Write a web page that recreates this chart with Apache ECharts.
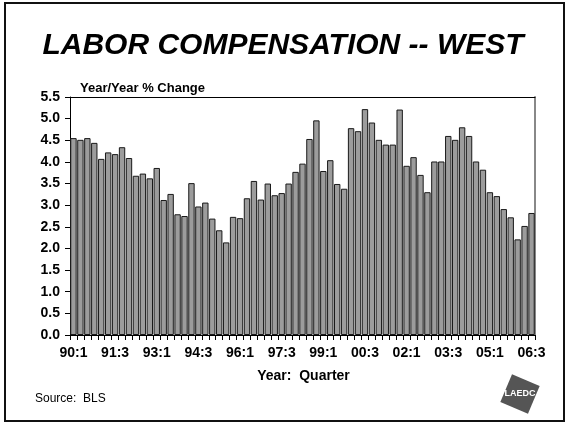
<!DOCTYPE html>
<html>
<head>
<meta charset="utf-8">
<script src="https://cdn.jsdelivr.net/npm/echarts@6/dist/echarts.min.js"></script>
<style>
  html, body { margin: 0; padding: 0; background: #fff; }
  #chart { width: 566px; height: 424px; }
</style>
</head>
<body>
<div id="chart"></div>
<script>
  // quarters 90:1 .. 06:3
  var years = ['90','91','92','93','94','95','96','97','98','99','00','01','02','03','04','05','06'];
  var quarters = [];
  years.forEach(function (y) {
    for (var q = 1; q <= 4; q++) {
      if (y === '06' && q > 3) break;
      quarters.push(y + ':' + q);
    }
  });

  // year/year % change
  var pctChange = [
    4.55, 4.51, 4.55, 4.44, 4.07, 4.22, 4.18, 4.34, 4.09, 3.68,
    3.73, 3.62, 3.86, 3.12, 3.26, 2.79, 2.75, 3.51, 2.97, 3.06,
    2.69, 2.42, 2.14, 2.73, 2.70, 3.16, 3.56, 3.13, 3.50, 3.23,
    3.28, 3.50, 3.77, 3.96, 4.53, 4.96, 3.79, 4.04, 3.49, 3.38,
    4.78, 4.71, 5.22, 4.91, 4.51, 4.40, 4.40, 5.21, 3.91, 4.11,
    3.70, 3.30, 4.01, 4.01, 4.60, 4.51, 4.80, 4.60, 4.01, 3.82,
    3.30, 3.21, 2.91, 2.72, 2.21, 2.52, 2.82
  ];

  var myChart = echarts.init(document.getElementById('chart'));
  var font = 'Liberation Sans, Arial, sans-serif';

  var option = {
    animation: false,
    textStyle: { fontFamily: font },
    grid: { left: 70, right: 31, top: 97, bottom: 89 },   // plot box
    xAxis: [{
      type: 'category',
      data: quarters,
      axisLine: { lineStyle: { color: '#000', width: 1 } },
      axisTick: { show: true, interval: 0, length: 5, lineStyle: { color: '#000' } },
      axisLabel: {
        interval: 5, color: '#000', fontWeight: 'bold', fontSize: 14,
        fontFamily: font, margin: 11
      },
      name: 'Year:  Quarter',
      nameLocation: 'middle',
      nameGap: 34,
      nameTextStyle: { color: '#000', fontWeight: 'bold', fontSize: 14, fontFamily: font, padding: [0, 0, 0, 2] }
    }, {
      type: 'category',
      position: 'top',
      data: quarters,
      axisLine: { show: true, onZero: false, lineStyle: { color: '#000', width: 1 } },
      axisTick: { show: false },
      axisLabel: { show: false }
    }],
    yAxis: [{
      type: 'value',
      min: 0,
      max: 5.5,
      interval: 0.5,
      splitLine: { show: false },
      axisLine: { show: true, lineStyle: { color: '#000' } },
      axisTick: { show: true, length: 5, lineStyle: { color: '#000' } },
      axisLabel: {
        color: '#000', fontWeight: 'bold', fontSize: 14, fontFamily: font, margin: 10,
        formatter: function (v) { return v.toFixed(1); }
      }
    }, {
      type: 'value',
      position: 'right',
      min: 0,
      max: 5.5,
      interval: 0.5,
      splitLine: { show: false },
      axisLine: { show: true, onZero: false, lineStyle: { color: '#888', width: 2 } },
      axisTick: { show: false },
      axisLabel: { show: false }
    }],
    series: [{
      type: 'bar',
      data: pctChange,
      barCategoryGap: '8%',
      itemStyle: { color: '#9c9c9c', borderColor: '#1a1a1a', borderWidth: 1 }
    }],
    graphic: [
      { // outer frame
        type: 'rect', shape: { x: 5, y: 3, width: 559, height: 418 },
        style: { fill: 'none', stroke: '#111', lineWidth: 2 }, silent: true
      },
      {
        type: 'text', left: 'center', top: 31,
        style: { text: 'LABOR COMPENSATION -- WEST', font: 'italic bold 30px ' + font, fill: '#000' }
      },
      {
        type: 'text', left: 80, top: 82,
        style: { text: 'Year/Year % Change', font: 'bold 13px ' + font, fill: '#000' }
      },
      {
        type: 'text', left: 35, top: 393,
        style: { text: 'Source:  BLS', font: '12px ' + font, fill: '#000' }
      },
      { // LAEDC logo
        type: 'group', x: 520, y: 394, rotation: -0.4,
        children: [
          { type: 'rect', shape: { x: -15, y: -15, width: 30, height: 30 }, style: { fill: '#555' } }
        ]
      },
      {
        type: 'text', x: 520, y: 394,
        style: { text: 'LAEDC', font: 'bold 9px ' + font, fill: '#fff', align: 'center', verticalAlign: 'middle' }
      }
    ]
  };

  myChart.setOption(option);
</script>
</body>
</html>
